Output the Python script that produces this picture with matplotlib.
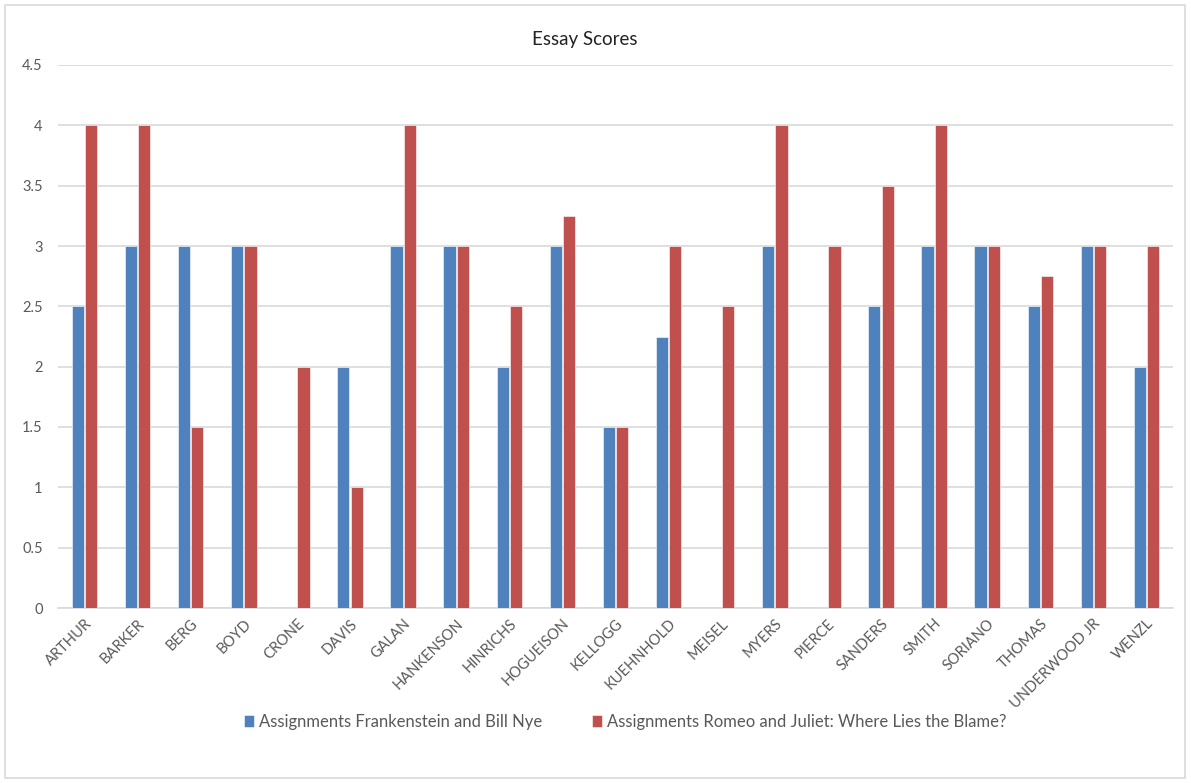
import matplotlib
matplotlib.use("Agg")
import matplotlib.pyplot as plt
from matplotlib.patches import Rectangle
import numpy as np

plt.rcParams['font.family'] = ['Lato', 'DejaVu Sans']

students = ["ARTHUR", "BARKER", "BERG", "BOYD", "CRONE", "DAVIS", "GALAN",
            "HANKENSON", "HINRICHS", "HOGUEISON", "KELLOGG", "KUEHNHOLD",
            "MEISEL", "MYERS", "PIERCE", "SANDERS", "SMITH", "SORIANO",
            "THOMAS", "UNDERWOOD JR", "WENZL"]
frankenstein = [2.5, 3, 3, 3, 0, 2, 3, 3, 2, 3, 1.5, 2.25, 0, 3, 0, 2.5, 3, 3, 2.5, 3, 2]
romeo_juliet = [4, 4, 1.5, 3, 2, 1, 4, 3, 2.5, 3.25, 1.5, 3, 2.5, 4, 3, 3.5, 4, 3, 2.75, 3, 3]
series_names = ["Assignments Frankenstein and Bill Nye",
                "Assignments Romeo and Juliet: Where Lies the Blame?"]
y_ticks = [0, 0.5, 1, 1.5, 2, 2.5, 3, 3.5, 4, 4.5]
y_tick_labels = ["0", "0.5", "1", "1.5", "2", "2.5", "3", "3.5", "4", "4.5"]

blue = "#4F81BD"
red = "#C0504D"
text_gray = "#595959"
grid_gray = "#D9D9D9"

W, H = 1191, 783
fig = plt.figure(figsize=(W / 100, H / 100), dpi=100)
fig.patch.set_facecolor("white")

# Chart-area border
fig.patches.append(Rectangle((5 / W, 5 / H), 1180 / W, 773 / H,
                             transform=fig.transFigure, fill=False,
                             edgecolor=grid_gray, linewidth=1.2))

ax = fig.add_axes([58 / W, 1 - 608 / H, (1173 - 58) / W, (608 - 65) / H])

x = np.arange(len(students))
bw = 0.23
gap = 0.02
ax.bar(x - bw / 2 - gap / 2, frankenstein, width=bw, color=blue,
       edgecolor="white", linewidth=0.4, label=series_names[0], zorder=3)
ax.bar(x + bw / 2 + gap / 2, romeo_juliet, width=bw, color=red,
       edgecolor="white", linewidth=0.4, label=series_names[1], zorder=3)

ax.set_xlim(-0.5, len(students) - 0.5)
ax.set_ylim(0, 4.5)
ax.set_yticks(y_ticks)
ax.set_yticklabels(y_tick_labels)
ax.yaxis.grid(True, color=grid_gray, linewidth=1.2, zorder=0)
ax.set_axisbelow(True)

for s in ["top", "right", "left"]:
    ax.spines[s].set_visible(False)
ax.spines["bottom"].set_color(grid_gray)
ax.spines["bottom"].set_linewidth(1.2)

ax.tick_params(axis="y", length=0, pad=11, labelsize=10.5, labelcolor=text_gray)
ax.tick_params(axis="x", length=0, pad=6, labelsize=10.5, labelcolor=text_gray)
ax.set_xticks(x)
ax.set_xticklabels(students, rotation=45, ha="right", rotation_mode="anchor")

fig.text(585 / W, 1 - 40 / H, "Essay Scores", ha="center", va="center",
         fontsize=13.5, color="#222222")

leg = fig.legend(loc="center", bbox_to_anchor=(625 / W, 1 - 722 / H), ncol=2,
                 frameon=False, fontsize=12, handlelength=0.6, handleheight=0.7,
                 handletextpad=0.3, columnspacing=3.0)
for t in leg.get_texts():
    t.set_color(text_gray)

fig.savefig("out.png", dpi=100)
